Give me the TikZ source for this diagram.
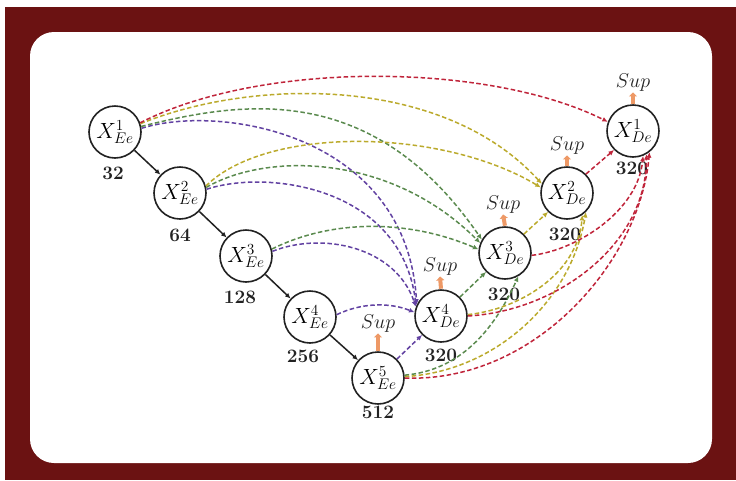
\RequirePackage{fix-cm}
\documentclass[tikz,border=0pt]{standalone}
\usetikzlibrary{arrows.meta}
\definecolor{frame}{HTML}{6B1212}
\definecolor{cred}{HTML}{C0243A}
\definecolor{cyel}{HTML}{BBAA2C}
\definecolor{cgrn}{HTML}{5A8A4E}
\definecolor{cpur}{HTML}{6242A2}
\definecolor{corg}{HTML}{EE9966}
\definecolor{cline}{HTML}{222222}
\tikzset{
  xnode/.style={circle, draw=cline, line width=1.6pt, fill=white, minimum size=52pt, inner sep=0pt, font=\fontsize{22}{25}\selectfont},
  num/.style={inner sep=0pt, font=\fontsize{19}{22}\selectfont\bfseries, text=cline},
  suplab/.style={inner sep=0pt, font=\fontsize{20}{23}\selectfont, text=cline},
  suparrow/.style={draw=corg, line width=4pt, -{Triangle[length=4pt,width=8pt]}, shorten <=0.5pt, shorten >=0.5pt},
  encarrow/.style={draw=cline, line width=1.5pt, -{Latex[length=5.5pt,width=5pt]}},
  dl/.style={line width=1.5pt, dash pattern=on 4.5pt off 2.5pt, -{Latex[length=5.5pt,width=5pt]}}
}
\begin{document}
\begin{tikzpicture}[x=1pt,y=-1pt]
\useasboundingbox (0,0) rectangle (736,480);
\fill[white] (0,0) rectangle (736,480);
\fill[frame] (5,7) rectangle (736,480);
\fill[white, rounded corners=24pt] (30,32) rectangle (712,463);

% encoder nodes
\node[xnode] (E1) at (115,132) {$X^{1}_{Ee}$};
\node[xnode] (E2) at (180,193) {$X^{2}_{Ee}$};
\node[xnode] (E3) at (246,256) {$X^{3}_{Ee}$};
\node[xnode] (E4) at (310,317) {$X^{4}_{Ee}$};
\node[xnode] (E5) at (378,378) {$X^{5}_{Ee}$};
% decoder nodes
\node[xnode] (D4) at (441,316) {$X^{4}_{De}$};
\node[xnode] (D3) at (505,253) {$X^{3}_{De}$};
\node[xnode] (D2) at (567,193) {$X^{2}_{De}$};
\node[xnode] (D1) at (633,131) {$X^{1}_{De}$};

% numbers
\node[num] (n1) at (113,173) {32};
\node[num] (n2) at (180,235) {64};
\node[num] (n3) at (240,297) {128};
\node[num] (n4) at (303,356) {256};
\node[num] (n5) at (378,412) {512};
\node[num] (m4) at (441,355) {320};
\node[num] (m3) at (504,294) {320};
\node[num] (m2) at (565,234) {320};
\node[num] (m1) at (632,168) {320};

% Sup labels
\node[suplab] (s5) at (378,324) {$Sup$};
\node[suplab] (s4) at (440,267) {$Sup$};
\node[suplab] (s3) at (503,205) {$Sup$};
\node[suplab] (s2) at (567,146) {$Sup$};
\node[suplab] (s1) at (633,83) {$Sup$};
\draw[suparrow] (E5.north) -- (s5.south);
\draw[suparrow] (D4.north) -- (s4.south);
\draw[suparrow] (D3.north) -- (s3.south);
\draw[suparrow] (D2.north) -- (s2.south);
\draw[suparrow] (D1.north) -- (s1.south);

% encoder chain
\draw[encarrow] (E1) -- (E2);
\draw[encarrow] (E2) -- (E3);
\draw[encarrow] (E3) -- (E4);
\draw[encarrow] (E4) -- (E5);

% purple: to D4
\draw[dl, cpur] (E1.8) .. controls +(80,-25) and +(-10,-170) .. (D4.155);
\draw[dl, cpur] (E2.8) .. controls +(60,-20) and +(-15,-120) .. (D4.158);
\draw[dl, cpur] (E3.10) .. controls +(50,-20) and +(-20,-60) .. (D4.160);
\draw[dl, cpur] (E4.5) .. controls +(25,-12) and +(-25,-10) .. (D4.172);
\draw[dl, cpur] (E5.45) -- (D4.225);

% green: to D3
\draw[dl, cgrn] (E1.12) .. controls +(100,-25) and +(-110,-160) .. (D3.150);
\draw[dl, cgrn] (E2.12) .. controls +(60,-35) and +(-90,-90) .. (D3.158);
\draw[dl, cgrn] (E3.15) .. controls +(60,-30) and +(-70,-30) .. (D3.172);
\draw[dl, cgrn] (D4.45) -- (D3.225);
\draw[dl, cgrn] (E5.6) .. controls +(55,-5) and +(-25,55) .. (D3.-60);

% yellow: to D2
\draw[dl, cyel] (E1.18) .. controls +(110,-45) and +(-100,-110) .. (D2.160);
\draw[dl, cyel] (E2.15) .. controls +(60,-60) and +(-100,-60) .. (D2.168);
\draw[dl, cyel] (D3.45) -- (D2.225);
\draw[dl, cyel] (D4.3) .. controls +(50,-5) and +(-5,60) .. (D2.-55);
\draw[dl, cyel] (E5.3) .. controls +(90,-5) and +(-15,90) .. (D2.-45);

% red: to D1
\draw[dl, cred] (E1.20) .. controls +(120,-62) and +(-120,-60) .. (D1.160);
\draw[dl, cred] (D2.45) -- (D1.225);
\draw[dl, cred] (D3.-5) .. controls +(45,-5) and +(-5,55) .. (D1.-68);
\draw[dl, cred] (D4.0) .. controls +(90,-5) and +(0,90) .. (D1.-60);
\draw[dl, cred] (E5.0) .. controls +(130,5) and +(-10,110) .. (D1.-52);
\end{tikzpicture}
\end{document}
